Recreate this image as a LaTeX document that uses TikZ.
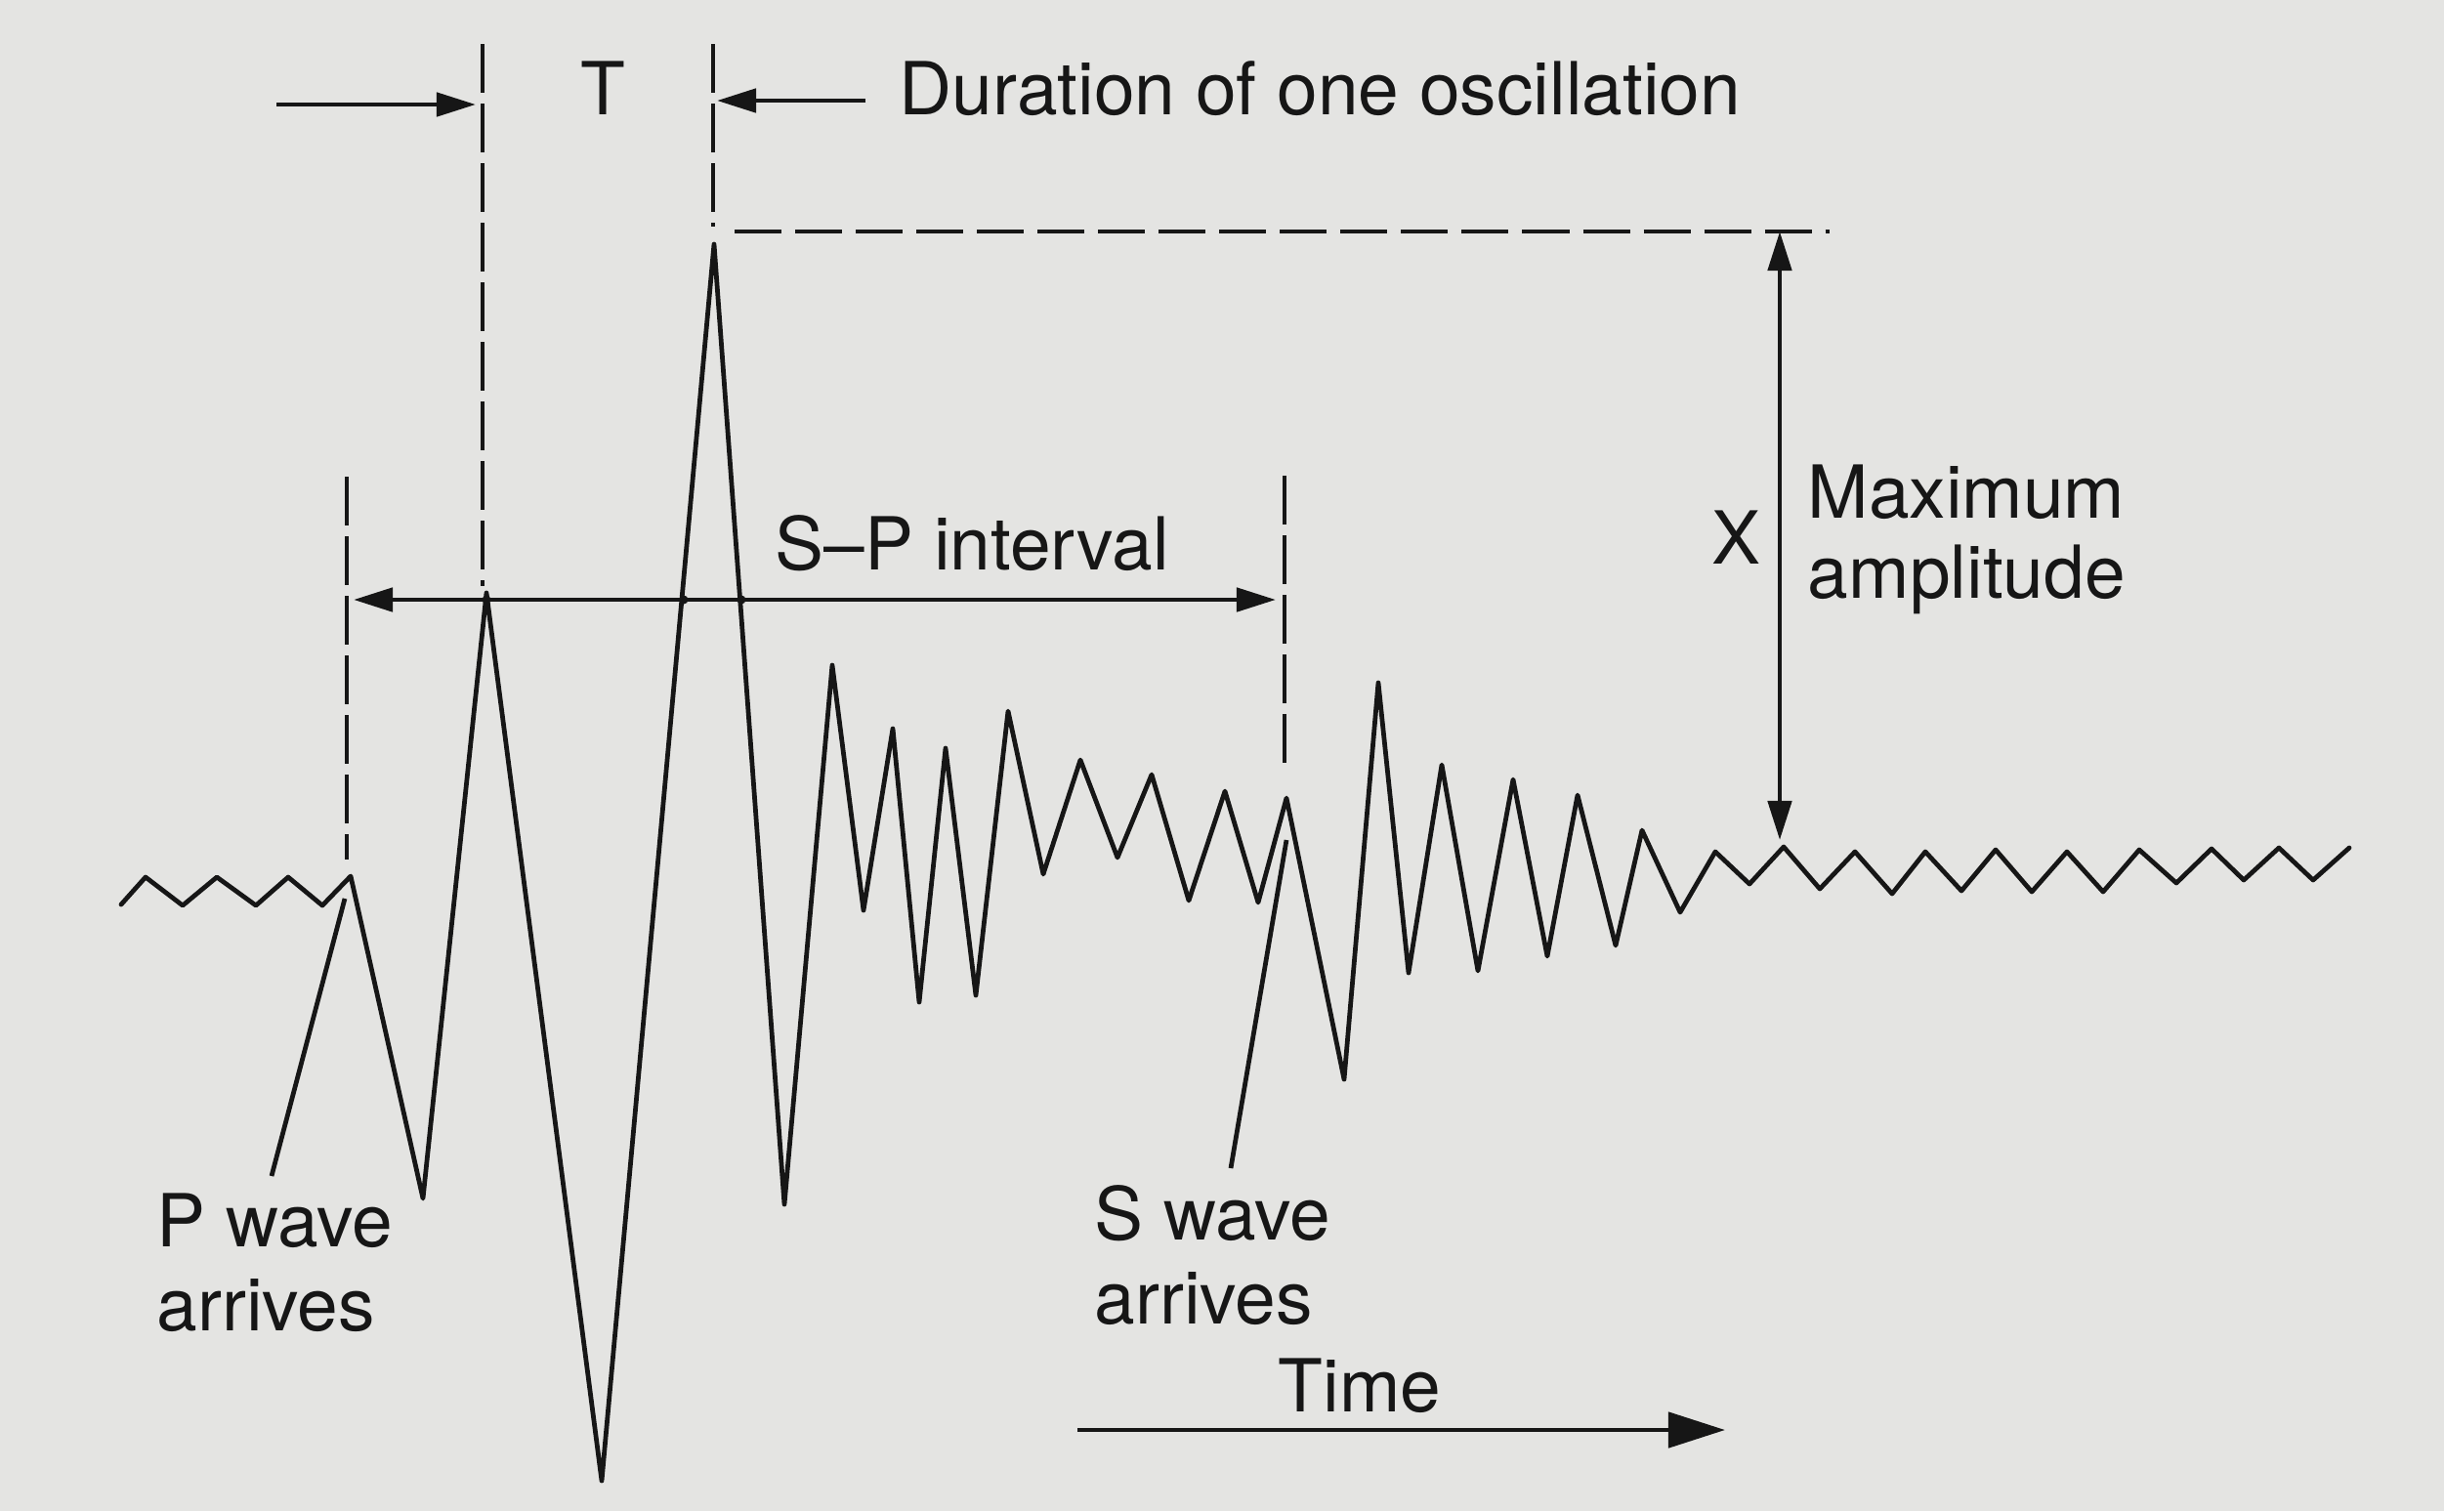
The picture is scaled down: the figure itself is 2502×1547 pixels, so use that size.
\documentclass[tikz,border=0pt]{standalone}
\usepackage{fontspec}
\setmainfont{TeX Gyre Heros}
\usetikzlibrary{arrows.meta}
\definecolor{paper}{RGB}{228,228,226}
\definecolor{ink}{RGB}{22,22,22}
\begin{document}
\begin{tikzpicture}[x=0.01cm,y=-0.01cm,
  trace/.style={draw=ink,line width=1.35pt,line join=round,line cap=round},
  guide/.style={draw=ink,line width=1.4pt,dash pattern=on 0.5cm off 0.11cm},
  hguide/.style={draw=ink,line width=1.35pt,dash pattern=on 0.48cm off 0.14cm},
  pointer/.style={draw=ink,line width=1.35pt},
  tip/.style={-{Triangle[length=0.4cm,width=0.24cm]}},
  tips/.style={{Triangle[length=0.4cm,width=0.24cm]}-{Triangle[length=0.4cm,width=0.24cm]}},
  bigtip/.style={-{Triangle[length=0.58cm,width=0.36cm]}},
  lbl/.style={inner sep=0pt,text=ink,font=\fontsize{21.3}{25}\selectfont},
  crossdot/.style={fill=ink,circle,inner sep=0pt,minimum size=0.09cm}]
\fill[paper] (0,0) rectangle (2502,1547);
\useasboundingbox (0,0) rectangle (2502,1547);

% key points
\coordinate (parr) at (359,897);
\coordinate (ppk) at (498,607);
\coordinate (maxpk) at (731,250);
\coordinate (sarr) at (1317,817);
\coordinate (tailpk) at (1826,867);

% waveform
\draw[trace] (124,926) -- (149,898) -- (187,927) -- (222,898) -- (262,927) -- (295,898) -- (330,927) -- (parr)
 -- (433,1227) -- (ppk) -- (616,1516) -- (maxpk) -- (803,1233) -- (852,681) -- (884,932) -- (914,746)
 -- (941,1026) -- (968,766) -- (999,1019) -- (1032,728) -- (1068,895) -- (1106,778) -- (1144,878)
 -- (1179,793) -- (1217,922) -- (1254,810) -- (1288,924) -- (sarr) -- (1376,1105) -- (1411,699)
 -- (1442,996) -- (1476,783) -- (1513,994) -- (1549,798) -- (1584,979) -- (1615,814) -- (1654,968)
 -- (1681,850) -- (1720,934) -- (1756,872) -- (1791,905) -- (tailpk) -- (1863,910) -- (1899,872)
 -- (1937,915) -- (1971,872) -- (2008,912) -- (2043,870) -- (2080,913) -- (2116,872) -- (2153,913)
 -- (2190,870) -- (2228,904) -- (2264,869) -- (2297,901) -- (2333,868) -- (2368,901) -- (2405,868);

% vertical dashed guides
\coordinate (g1top) at (494,45);
\coordinate (g1bot) at (494,600);
\coordinate (g2top) at (730,45);
\coordinate (g2bot) at (730,232);
\coordinate (gptop) at (355,488);
\coordinate (gpbot) at (355,880);
\coordinate (gstop) at (1315,487);
\coordinate (gsbot) at (1315,791);
\draw[guide] (g1top) -- (g1bot);
\draw[guide] (g2top) -- (g2bot);
\draw[guide] (gptop) -- (gpbot);
\draw[guide] (gstop) -- (gsbot);

% horizontal dashed line at max amplitude
\coordinate (hstart) at (752,237);
\coordinate (hend) at (1873,237);
\draw[hguide] (hstart) -- (hend);

% T arrows
\coordinate (ta1) at (283,107);
\coordinate (ta2) at (487,107);
\coordinate (tb1) at (886,103);
\coordinate (tb2) at (734,103);
\draw[pointer,tip] (ta1) -- (ta2);
\draw[pointer,tip] (tb1) -- (tb2);
\node[lbl,anchor=base] (T) at (617,117) {T};
\node[lbl,anchor=base west] (dur) at (920,117) {Duration of one oscillation};

% S-P interval
\coordinate (sp1) at (362,614);
\coordinate (sp2) at (1306,614);
\draw[pointer,tips] (sp1) -- (sp2);
\node[crossdot] (d1) at (498,614) {};
\node[crossdot] (d2) at (700,614) {};
\node[crossdot] (d3) at (759,614) {};
\node[lbl,anchor=base west] (sp) at (793,583) {S–P interval};

% amplitude arrow
\coordinate (am1) at (1822,237);
\coordinate (am2) at (1822,860);
\draw[pointer,tips] (am1) -- (am2);
\node[lbl,anchor=base] (X) at (1777,577) {X};
\node[lbl,anchor=base west] (max) at (1850,530) {Maximum};
\node[lbl,anchor=base west] (amp) at (1850,612) {amplitude};

% P wave label and pointer
\node[lbl,anchor=base west] (pw) at (160,1276) {P wave};
\node[lbl,anchor=base west] (pa) at (160,1362) {arrives};
\coordinate (pp1) at (278,1204);
\coordinate (pp2) at (353,920);
\draw[pointer] (pp1) -- (pp2);

% S wave label and pointer
\node[lbl,anchor=base west] (sw) at (1120,1269) {S wave};
\node[lbl,anchor=base west] (sa) at (1120,1355) {arrives};
\coordinate (sp1b) at (1260,1196);
\coordinate (sp2b) at (1317,860);
\draw[pointer] (sp1b) -- (sp2b);

% Time arrow
\node[lbl,anchor=base west] (time) at (1308,1445) {Time};
\coordinate (tm1) at (1103,1464);
\coordinate (tm2) at (1766,1464);
\draw[pointer,bigtip] (tm1) -- (tm2);
\end{tikzpicture}
\end{document}
